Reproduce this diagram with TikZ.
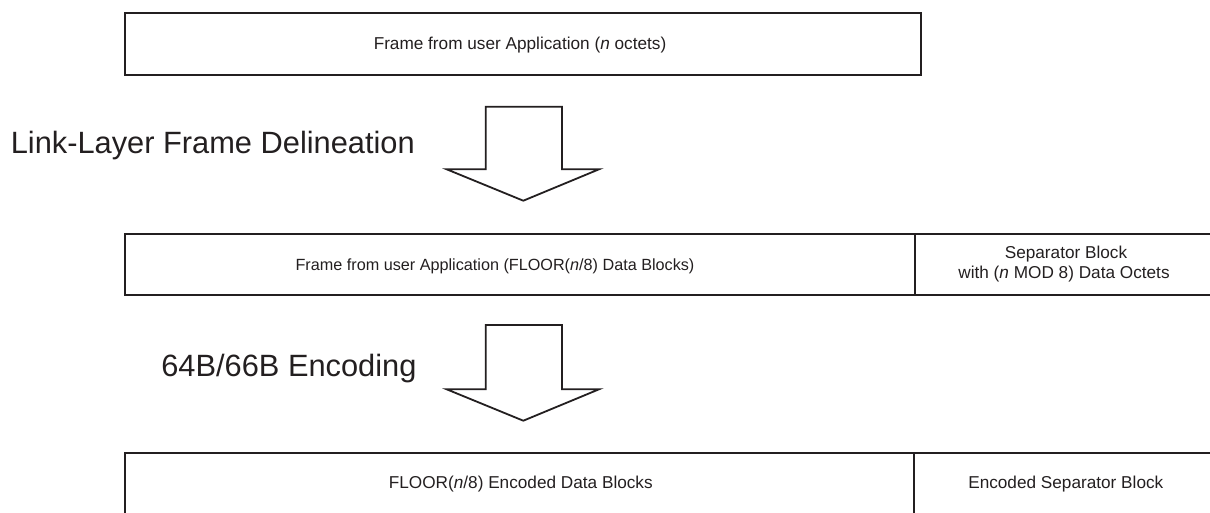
\documentclass[tikz,border=0pt]{standalone}
\usepackage{fontspec}
\setmainfont{Liberation Sans}
\definecolor{ink}{HTML}{231F20}
\begin{document}
\begin{tikzpicture}[x=1pt,y=-1pt,
  boxline/.style={draw=ink,line width=2pt},
  small/.style={text=ink,font=\fontsize{17.2}{20}\selectfont,inner sep=0pt},
  big/.style={text=ink,font=\fontsize{30.8}{36}\selectfont,inner sep=0pt},
  bigarrow/.style={draw=ink,line width=1.8pt,line join=miter,fill=white}]
\useasboundingbox (0,0) rectangle (1210,512);
\clip (0,0) rectangle (1210,512);
% top frame
\node[boxline,rectangle,minimum width=795.7pt,minimum height=62.3pt,anchor=north west,inner sep=0pt] (top) at (124.3,11.7) {};
\node[small,anchor=base] (toptxt) at (520,49.3) {Frame from user Application (\textit{n} octets)};
% arrow 1
\draw[bigarrow] (485.7,106.7) -- (562,106.7) -- (562,169.3) -- (599,169.3) -- (523.3,200.7) -- (446.7,169.3) -- (485.7,169.3) -- cycle;
\node[big,anchor=base east] (lbl1) at (415,153.3) {Link-Layer Frame Delineation};
% middle frame
\node[boxline,rectangle,minimum width=789.7pt,minimum height=61.3pt,anchor=north west,inner sep=0pt] (midA) at (124.3,232.7) {};
\node[boxline,rectangle,minimum width=310pt,minimum height=61.3pt,anchor=north west,inner sep=0pt] (midB) at (914,232.7) {};
\node[small,anchor=base,font=\fontsize{16.2}{20}\selectfont] (midAtxt) at (495,270) {Frame from user Application (FLOOR(\textit{n}/8) Data Blocks)};
\node[small,anchor=base,align=center] (midBtxt1) at (1066,258.3) {Separator Block};
\node[small,anchor=base,align=center] (midBtxt2) at (1064,278.3) {with (\textit{n} MOD 8) Data Octets};
% arrow 2
\draw[bigarrow] (485.7,325) -- (562,325) -- (562,389.3) -- (599,389.3) -- (523.3,420.7) -- (446.7,389.3) -- (485.7,389.3) -- cycle;
\node[big,anchor=base east] (lbl2) at (416.7,376.7) {64B/66B Encoding};
% bottom frame
\node[boxline,rectangle,minimum width=789pt,minimum height=70pt,anchor=north west,inner sep=0pt] (botA) at (124.3,452.3) {};
\node[boxline,rectangle,minimum width=310pt,minimum height=70pt,anchor=north west,inner sep=0pt] (botB) at (913.3,452.3) {};
\node[small,anchor=base] (botAtxt) at (520.8,488.3) {FLOOR(\textit{n}/8) Encoded Data Blocks};
\node[small,anchor=base] (botBtxt) at (1065.8,488.3) {Encoded Separator Block};
\end{tikzpicture}
\end{document}
